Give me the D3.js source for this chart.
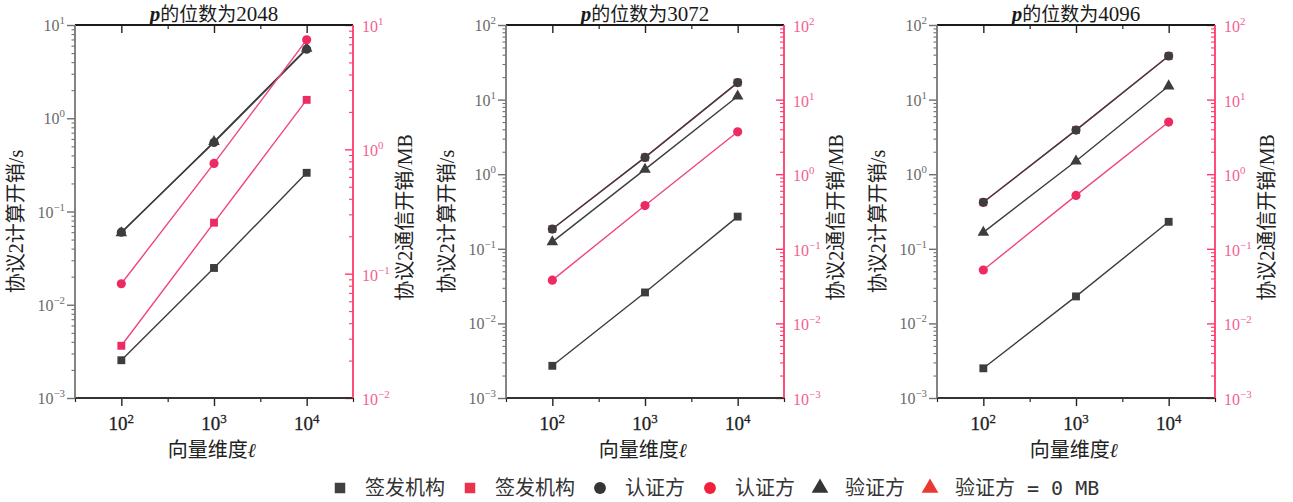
<!DOCTYPE html>
<html>
<head>
<meta charset="utf-8">
<script src="https://cdn.jsdelivr.net/npm/d3@7"></script>
<style>
  body { margin: 0; background: #fff; }
  svg { display: block; }
</style>
</head>
<body>
<svg id="chart" width="1293" height="502"></svg>
<script>
// Vector dimension ℓ (x values)
const dims = [100, 1000, 10000];
// Bit length of p, one panel each
const bitLengths = ["2048", "3072", "4096"];

// Computation cost in seconds (left axis), one row per panel
const issuerTime   = [[0.00254, 0.0248, 0.26], [0.0027, 0.026, 0.27], [0.0025, 0.023, 0.23]];
const proverTime   = [[0.06, 0.55, 5.5],       [0.184, 1.68, 16.9],   [0.42, 3.9, 38.4]];
const verifierTime = [[0.059, 0.56, 5.6],      [0.124, 1.16, 11.1],   [0.166, 1.5, 15.2]];

// Communication cost in MB (right axis); the verifier sends 0 MB
const issuerComm = [[0.0263, 0.257, 2.5], [0.184, 1.68, 16.9], [0.42, 3.9, 38.4]];
const proverComm = [[0.083, 0.77, 7.6],   [0.038, 0.38, 3.7],  [0.052, 0.52, 5.0]];

// Axis ranges
const leftDomains  = [[1e-3, 1e1], [1e-3, 1e2], [1e-3, 1e2]];
const rightDomains = [[1e-2, 1e1], [1e-3, 1e2], [1e-3, 1e2]];
const xDomain = [Math.pow(10, 1.5), Math.pow(10, 4.5)];
const xMinorTicks = [Math.pow(10, 1.5), Math.pow(10, 2.5), Math.pow(10, 3.5), Math.pow(10, 4.5)];

// Legend entries
const legendLabels = ["签发机构", "签发机构", "认证方", "认证方", "验证方", "验证方"];
const legendSuffix = " = 0 MB";

const DARK = "#3d3d3d";
const PINK_LINE = "#f0457c";
const PINK_MARK = "#ee2a62";
const AXIS_RED = "#ff3a6a";
const SERIF = "'Liberation Serif', 'DejaVu Serif', serif";
const CJK = "'Noto Sans CJK SC', 'Noto Sans', sans-serif";
const MONO = "'DejaVu Sans Mono', 'Liberation Mono', monospace";

const svg = d3.select("#chart");
const panelX = [75, 506, 937];
const panelW = 278;
const plotTop = 25, plotBottom = 398;

function powText(sel, exp) {
  sel.append("tspan").text("10");
  sel.append("tspan").attr("dy", -7).attr("font-size", "0.68em")
    .text(exp < 0 ? "\u2212" + (-exp) : String(exp));
}

function decadesOf(domain) {
  const a = Math.round(Math.log10(domain[0])), b = Math.round(Math.log10(domain[1]));
  return d3.range(a, b + 1);
}

const sym = {
  square: d3.symbol().type(d3.symbolSquare).size(62),
  circle: d3.symbol().type(d3.symbolCircle).size(66),
  triangle: d3.symbol().type(d3.symbolTriangle).size(58)
};

bitLengths.forEach((bits, pi) => {
  const x0 = panelX[pi], x1 = x0 + panelW;
  const g = svg.append("g");
  const x = d3.scaleLog().domain(xDomain).range([x0, x1]);
  const yL = d3.scaleLog().domain(leftDomains[pi]).range([plotBottom, plotTop]);
  const yR = d3.scaleLog().domain(rightDomains[pi]).range([plotBottom, plotTop]);

  const leftMajor = decadesOf(leftDomains[pi]);
  const rightMajor = decadesOf(rightDomains[pi]);
  const isMinor = v => Math.abs(Math.log10(v) - Math.round(Math.log10(v))) > 1e-6;
  const leftMinor = yL.ticks().filter(isMinor);
  const rightMinor = yR.ticks().filter(isMinor);

  const strip = s => s.select(".domain").remove();

  // left axis: major + minor ticks (outward)
  g.append("g").attr("transform", `translate(${x0},0)`)
    .call(d3.axisLeft(yL).tickValues(leftMajor.map(e => Math.pow(10, e))).tickSize(8).tickFormat(""))
    .call(strip).selectAll("line").attr("stroke", "#707070").attr("stroke-width", 1.4);
  g.append("g").attr("transform", `translate(${x0},0)`)
    .call(d3.axisLeft(yL).tickValues(leftMinor).tickSize(3.5).tickFormat(""))
    .call(strip).selectAll("line").attr("stroke", "#707070").attr("stroke-width", 1.1);

  // right axis: ticks point into the plot
  g.append("g").attr("transform", `translate(${x1},0)`)
    .call(d3.axisRight(yR).tickValues(rightMajor.map(e => Math.pow(10, e))).tickSizeInner(-8).tickSizeOuter(0).tickFormat(""))
    .call(strip).selectAll("line").attr("stroke", AXIS_RED).attr("stroke-width", 1.4);
  g.append("g").attr("transform", `translate(${x1},0)`)
    .call(d3.axisRight(yR).tickValues(rightMinor).tickSizeInner(-4).tickSizeOuter(0).tickFormat(""))
    .call(strip).selectAll("line").attr("stroke", AXIS_RED).attr("stroke-width", 1.1);

  // bottom axis
  g.append("g").attr("transform", `translate(0,${plotBottom})`)
    .call(d3.axisBottom(x).tickValues(dims).tickSize(8).tickFormat(""))
    .call(strip).selectAll("line").attr("stroke", "#222").attr("stroke-width", 1.4);
  g.append("g").attr("transform", `translate(0,${plotBottom})`)
    .call(d3.axisBottom(x).tickValues(xMinorTicks).tickSize(4).tickFormat(""))
    .call(strip).selectAll("line").attr("stroke", "#222").attr("stroke-width", 1.2);

  // top axis, ticks pointing down into the plot
  g.append("g").attr("transform", `translate(0,${plotTop})`)
    .call(d3.axisTop(x).tickValues(dims).tickSizeInner(-8).tickSizeOuter(0).tickFormat(""))
    .call(strip).selectAll("line").attr("stroke", "#222").attr("stroke-width", 1.4);
  g.append("g").attr("transform", `translate(0,${plotTop})`)
    .call(d3.axisTop(x).tickValues(xMinorTicks.slice(1, 3)).tickSizeInner(-4).tickSizeOuter(0).tickFormat(""))
    .call(strip).selectAll("line").attr("stroke", "#222").attr("stroke-width", 1.2);

  // frame
  g.append("line").attr("x1", x0).attr("x2", x1).attr("y1", plotTop).attr("y2", plotTop)
    .attr("stroke", "#1a1a1a").attr("stroke-width", 1.8);
  g.append("line").attr("x1", x0).attr("x2", x1).attr("y1", plotBottom).attr("y2", plotBottom)
    .attr("stroke", "#333").attr("stroke-width", 1.8);
  g.append("line").attr("x1", x0).attr("x2", x0).attr("y1", plotTop).attr("y2", plotBottom)
    .attr("stroke", "#777").attr("stroke-width", 1.8);
  g.append("line").attr("x1", x1).attr("x2", x1).attr("y1", plotTop).attr("y2", plotBottom)
    .attr("stroke", AXIS_RED).attr("stroke-width", 1.8);

  // tick labels
  leftMajor.forEach(e => {
    g.append("text").attr("x", x0 - 10).attr("y", yL(Math.pow(10, e)) + 6)
      .attr("text-anchor", "end").attr("font-family", SERIF).attr("font-size", 16)
      .attr("fill", "#6a6a6a").call(t => powText(t, e));
  });
  rightMajor.forEach(e => {
    g.append("text").attr("x", x1 + 9).attr("y", yR(Math.pow(10, e)) + 7)
      .attr("text-anchor", "start").attr("font-family", SERIF).attr("font-size", 16)
      .attr("fill", "#f2618f").call(t => powText(t, e));
  });
  dims.forEach(d => {
    g.append("text").attr("x", x(d)).attr("y", plotBottom + 32)
      .attr("text-anchor", "middle").attr("font-family", SERIF).attr("font-size", 19)
      .attr("fill", "#1e1e1e").attr("stroke", "#1e1e1e").attr("stroke-width", 0.3)
      .call(t => powText(t, Math.round(Math.log10(d))));
  });

  // title
  const title = g.append("text").attr("x", (x0 + x1) / 2).attr("y", 21)
    .attr("text-anchor", "middle").attr("font-size", 19).attr("fill", "#1a1a1a");
  title.append("tspan").attr("font-family", SERIF).attr("font-style", "italic")
    .attr("font-weight", "bold").attr("font-size", 21).text("p");
  title.append("tspan").attr("font-family", CJK).text("的位数为");
  title.append("tspan").attr("font-family", SERIF).attr("font-size", 21).text(bits);

  // axis titles
  const xl = g.append("text").attr("x", (x0 + x1) / 2 - 2).attr("y", plotBottom + 59)
    .attr("text-anchor", "middle").attr("font-size", 20).attr("fill", "#222");
  xl.append("tspan").attr("font-family", CJK).text("向量维度");
  xl.append("tspan").attr("font-family", SERIF).attr("font-style", "italic")
    .attr("font-weight", "bold").text("ℓ");

  const yl = g.append("text")
    .attr("transform", `translate(${x0 - 52},${(plotTop + plotBottom) / 2 + 10}) rotate(-90)`)
    .attr("text-anchor", "middle").attr("font-size", 20).attr("fill", "#222");
  yl.append("tspan").attr("font-family", CJK).text("协议");
  yl.append("tspan").attr("font-family", SERIF).text("2");
  yl.append("tspan").attr("font-family", CJK).text("计算开销");
  yl.append("tspan").attr("font-family", SERIF).text("/s");

  const yr = g.append("text")
    .attr("transform", `translate(${x1 + 59},${(plotTop + plotBottom) / 2 + 6}) rotate(-90)`)
    .attr("text-anchor", "middle").attr("font-size", 20).attr("fill", "#222");
  yr.append("tspan").attr("font-family", CJK).text("协议");
  yr.append("tspan").attr("font-family", SERIF).text("2");
  yr.append("tspan").attr("font-family", CJK).text("通信开销");
  yr.append("tspan").attr("font-family", SERIF).text("/MB");

  // series
  const series = [
    { vals: issuerComm[pi],   y: yR, line: PINK_LINE, mark: PINK_MARK, shape: "square" },
    { vals: issuerTime[pi],   y: yL, line: DARK,      mark: DARK,      shape: "square" },
    { vals: verifierTime[pi], y: yL, line: DARK,      mark: DARK,      shape: "triangle" },
    { vals: proverTime[pi],   y: yL, line: DARK,      mark: DARK,      shape: "circle" },
    { vals: proverComm[pi],   y: yR, line: PINK_LINE, mark: PINK_MARK, shape: "circle" }
  ];
  const line = d3.line();
  series.forEach(s => {
    const pts = dims.map((d, i) => [x(d), s.y(s.vals[i])]);
    g.append("path").attr("d", line(pts)).attr("fill", "none")
      .attr("stroke", s.line).attr("stroke-width", 1.4);
    g.selectAll(null).data(pts).join("path")
      .attr("transform", p => `translate(${p[0]},${p[1]})`)
      .attr("d", sym[s.shape]()).attr("fill", s.mark);
  });
});

// legend
const legendShapes = ["square", "square", "circle", "circle", "triangle", "triangle"];
const legendColors = ["#404040", "#e8334a", "#353535", "#f0203e", "#353535", "#e83a30"];
const lg = svg.append("g");
let lx = 340;
const ly = 488;
legendLabels.forEach((lab, i) => {
  lg.append("path").attr("transform", `translate(${lx},${ly})`)
    .attr("d", d3.symbol().type(legendShapes[i] === "square" ? d3.symbolSquare
      : legendShapes[i] === "circle" ? d3.symbolCircle : d3.symbolTriangle)
      .size(legendShapes[i] === "triangle" ? 120 : 110)())
    .attr("fill", legendColors[i]);
  const t = lg.append("text").attr("x", lx + 25).attr("y", ly + 7)
    .attr("font-size", 20).attr("fill", "#333");
  t.append("tspan").attr("font-family", CJK).text(lab);
  if (i === legendLabels.length - 1) {
    t.append("tspan").attr("font-family", MONO).attr("font-size", 20).attr("xml:space", "preserve").text(legendSuffix);
  }
  lx += 25 + t.node().getComputedTextLength() + 25;
});
</script>
</body>
</html>
